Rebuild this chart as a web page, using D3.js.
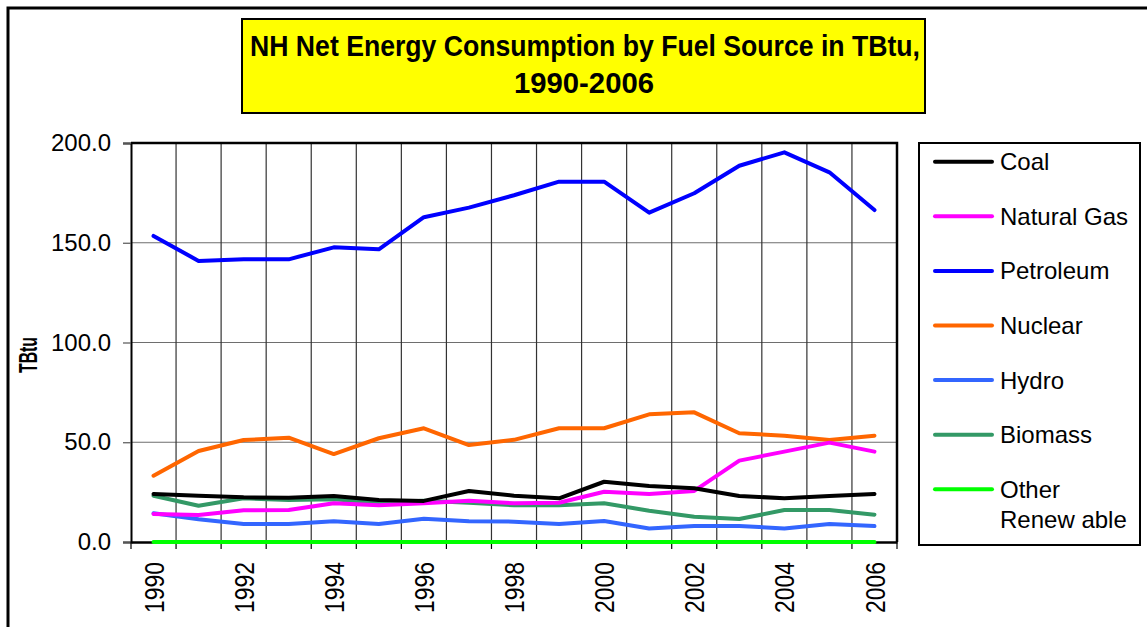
<!DOCTYPE html>
<html>
<head>
<meta charset="utf-8">
<script src="https://cdn.jsdelivr.net/npm/d3@7"></script>
<style>
  body { margin: 0; background: #fff; }
  svg { display: block; font-family: "Liberation Sans", Arial, sans-serif; }
</style>
</head>
<body>
<div id="container"></div>
<script>
/* DATA */
const years = [1990, 1991, 1992, 1993, 1994, 1995, 1996, 1997, 1998,
               1999, 2000, 2001, 2002, 2003, 2004, 2005, 2006];

const coal        = [24.1, 23.2, 22.4, 22.2, 23.1, 21.1, 20.6, 25.6, 23.2, 21.9, 30.2, 28.1, 26.9, 23.1, 21.9, 23.1, 24.1];
const naturalGas  = [14.0, 13.5, 15.9, 16.0, 19.4, 18.4, 19.4, 20.7, 19.4, 19.7, 25.2, 24.1, 25.6, 40.8, 45.3, 49.8, 45.3];
const petroleum   = [153.4, 140.9, 141.7, 141.7, 147.7, 146.7, 162.8, 167.6, 173.8, 180.6, 180.6, 165.1, 174.8, 188.6, 195.3, 185.3, 166.4];
const nuclear     = [33.2, 45.6, 51.1, 52.3, 44.1, 52.0, 57.0, 48.6, 51.2, 57.0, 57.0, 64.0, 65.0, 54.5, 53.3, 51.1, 53.3];
const hydro       = [14.4, 11.4, 9.0, 9.0, 10.4, 9.0, 11.7, 10.4, 10.2, 9.0, 10.5, 6.8, 8.0, 8.0, 6.8, 9.0, 8.0];
const biomass     = [23.2, 18.2, 21.9, 21.1, 21.4, 19.7, 20.7, 19.7, 18.4, 18.4, 19.4, 15.7, 12.7, 11.5, 16.0, 16.0, 13.7];
const otherRenew  = [0, 0, 0, 0, 0, 0, 0, 0, 0, 0, 0, 0, 0, 0, 0, 0, 0];

const seriesNames  = ["Coal", "Natural Gas", "Petroleum", "Nuclear", "Hydro", "Biomass", "Other Renewable"];
const seriesColors = ["#000000", "#ff00ff", "#0000ff", "#ff6600", "#3366ff", "#339966", "#00ff00"];
const yTicks = [0, 50, 100, 150, 200];

const seriesValues = [coal, naturalGas, petroleum, nuclear, hydro, biomass, otherRenew];
const series = seriesNames.map((name, i) => ({
  name: name,
  color: seriesColors[i],
  values: years.map((yr, j) => ({ year: yr, value: seriesValues[i][j] }))
}));

/* LAYOUT */
const width = 1147, height = 627;
const plot = { left: 131, right: 897, top: 143, bottom: 542 };
const fontFam = "Liberation Sans, Arial, sans-serif";

const svg = d3.select("#container")
  .append("svg")
  .attr("width", width)
  .attr("height", height);

// outer chart frame (runs off the right / bottom edge)
svg.append("rect")
  .attr("x", 8).attr("y", 8)
  .attr("width", width + 20).attr("height", height + 20)
  .attr("fill", "#fff")
  .attr("stroke", "#000")
  .attr("stroke-width", 3);

/* SCALES */
const xScale = d3.scaleBand()
  .domain(years)
  .range([plot.left, plot.right])
  .padding(0);

const yScale = d3.scaleLinear()
  .domain([0, 200])
  .range([plot.bottom, plot.top]);

const xMid = d => xScale(d) + xScale.bandwidth() / 2;

/* GRIDLINES */
const boundaries = years.map(d => xScale(d)).concat([plot.right]);

svg.append("g")
  .selectAll("line")
  .data(yTicks.slice(1, -1))
  .join("line")
  .attr("x1", plot.left).attr("x2", plot.right)
  .attr("y1", d => yScale(d)).attr("y2", d => yScale(d))
  .attr("stroke", "#6e6e6e")
  .attr("stroke-width", 1.2);

svg.append("g")
  .selectAll("line")
  .data(boundaries.slice(1, -1))
  .join("line")
  .attr("x1", d => d).attr("x2", d => d)
  .attr("y1", plot.top).attr("y2", plot.bottom)
  .attr("stroke", "#333")
  .attr("stroke-width", 1.2);

// plot area border (top & right)
svg.append("path")
  .attr("d", `M${plot.left},${plot.top}H${plot.right}V${plot.bottom}`)
  .attr("fill", "none")
  .attr("stroke", "#000")
  .attr("stroke-width", 2.5);

/* AXES */
const yAxis = svg.append("g")
  .attr("transform", `translate(${plot.left},0)`)
  .call(d3.axisLeft(yScale).tickValues(yTicks).tickFormat(d3.format(".1f")).tickSize(8).tickPadding(12));
yAxis.select(".domain").attr("stroke-width", 2);
yAxis.selectAll(".tick line").attr("stroke", "#555").attr("stroke-width", 1.2);
yAxis.selectAll(".tick text")
  .attr("font-size", 24)
  .attr("fill", "#000")
  .attr("font-family", fontFam);

// x tick marks at band boundaries
svg.append("g")
  .selectAll("line")
  .data(boundaries)
  .join("line")
  .attr("x1", d => d).attr("x2", d => d)
  .attr("y1", plot.bottom).attr("y2", plot.bottom + 7)
  .attr("stroke", "#000")
  .attr("stroke-width", 1.2);

const xAxis = svg.append("g")
  .attr("transform", `translate(0,${plot.bottom})`)
  .call(d3.axisBottom(xScale).tickSize(0).tickFormat(d => d % 2 === 0 ? d : ""));
xAxis.select(".domain").attr("stroke-width", 2.5).attr("stroke", "#000");
xAxis.selectAll(".tick text")
  .attr("font-size", 28)
  .attr("fill", "#000")
  .attr("font-family", fontFam)
  .attr("text-anchor", "end")
  .attr("transform", "rotate(-90)")
  .attr("x", -20)
  .attr("y", 0)
  .attr("dy", "0.36em")
  .filter(d => d % 2 === 0)
  .attr("textLength", 51)
  .attr("lengthAdjust", "spacingAndGlyphs");

// y axis title
svg.append("text")
  .attr("transform", "translate(37,355) rotate(-90)")
  .attr("text-anchor", "middle")
  .attr("font-size", 26)
  .attr("font-weight", "bold")
  .attr("textLength", 36)
  .attr("lengthAdjust", "spacingAndGlyphs")
  .text("TBtu");

/* LINES */
const line = d3.line()
  .x(d => xMid(d.year))
  .y(d => yScale(d.value));

svg.append("g")
  .selectAll("path")
  .data(series.slice().reverse())
  .join("path")
  .attr("d", d => line(d.values))
  .attr("fill", "none")
  .attr("stroke", d => d.color)
  .attr("stroke-width", 4)
  .attr("stroke-linejoin", "round")
  .attr("stroke-linecap", "round");

/* TITLE */
svg.append("rect")
  .attr("x", 242).attr("y", 19)
  .attr("width", 683).attr("height", 94)
  .attr("fill", "#ffff00")
  .attr("stroke", "#000")
  .attr("stroke-width", 2);

svg.append("text")
  .attr("x", 585).attr("y", 56)
  .attr("text-anchor", "middle")
  .attr("font-size", 29)
  .attr("font-weight", "bold")
  .attr("textLength", 670)
  .attr("lengthAdjust", "spacingAndGlyphs")
  .text("NH Net Energy Consumption by Fuel Source in TBtu,");

svg.append("text")
  .attr("x", 584).attr("y", 93)
  .attr("text-anchor", "middle")
  .attr("font-size", 29)
  .attr("font-weight", "bold")
  .attr("textLength", 140)
  .attr("lengthAdjust", "spacingAndGlyphs")
  .text("1990-2006");

/* LEGEND */
svg.append("rect")
  .attr("x", 919).attr("y", 143)
  .attr("width", 221).attr("height", 402)
  .attr("fill", "#fff")
  .attr("stroke", "#000")
  .attr("stroke-width", 2);

const legend = svg.append("g")
  .selectAll("g")
  .data(series)
  .join("g")
  .attr("transform", (d, i) => `translate(935,${161.7 + i * 54.6})`);

legend.append("line")
  .attr("x1", 0).attr("x2", 57)
  .attr("stroke", d => d.color)
  .attr("stroke-width", 4)
  .attr("stroke-linecap", "round");

legend.append("text")
  .attr("x", 65)
  .attr("y", 8.5)
  .attr("font-size", 24)
  .text(d => d.name === "Other Renewable" ? "Other" : d.name);

legend.filter(d => d.name === "Other Renewable")
  .append("text")
  .attr("x", 65)
  .attr("y", 39)
  .attr("font-size", 24)
  .text("Renew able");
</script>
</body>
</html>
